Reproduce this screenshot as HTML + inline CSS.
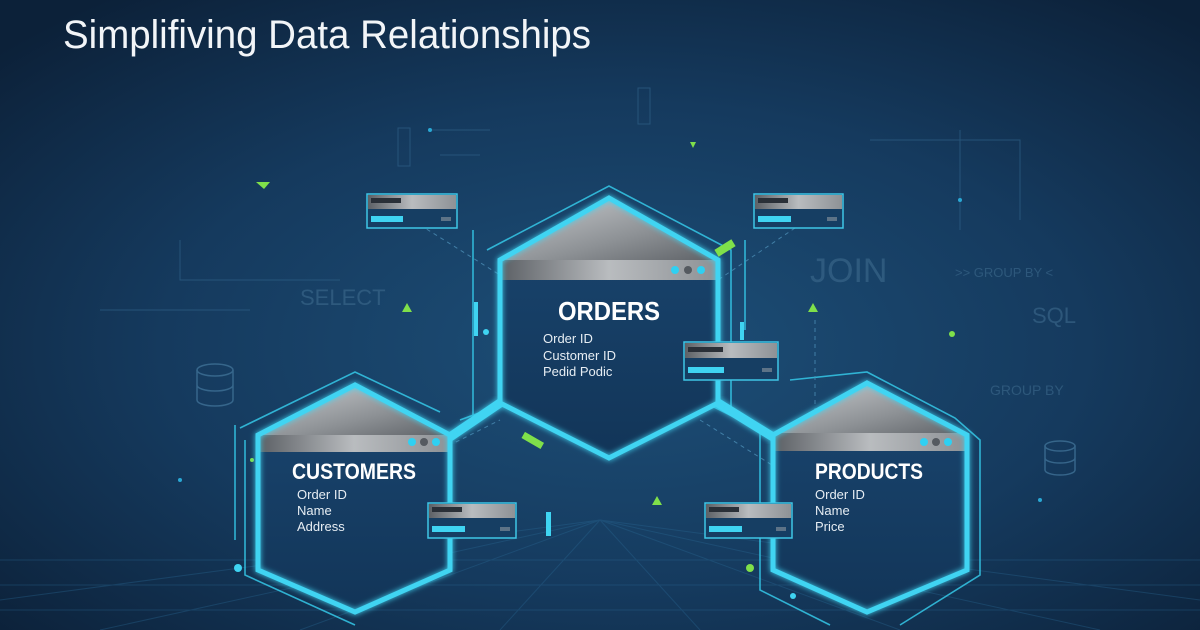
<!DOCTYPE html>
<html><head><meta charset="utf-8"><style>
html,body{margin:0;padding:0;background:#0e2540;}
svg{display:block}
text{font-family:"Liberation Sans",sans-serif}
</style></head><body>
<svg width="1200" height="630" viewBox="0 0 1200 630" xmlns="http://www.w3.org/2000/svg">
<defs>
<radialGradient id="bg" cx="0.52" cy="0.55" r="0.7">
<stop offset="0" stop-color="#1d4f78"/><stop offset="0.55" stop-color="#153a5e"/><stop offset="1" stop-color="#0c2139"/>
</radialGradient>
<linearGradient id="gray" x1="0" y1="0" x2="1" y2="0">
<stop offset="0" stop-color="#5d6166"/><stop offset="0.5" stop-color="#b9bcbf"/><stop offset="1" stop-color="#8e9296"/>
</linearGradient>
<linearGradient id="roof" x1="0" y1="0" x2="1" y2="1">
<stop offset="0" stop-color="#c9cccf"/><stop offset="0.6" stop-color="#8d9195"/><stop offset="1" stop-color="#5f6368"/>
</linearGradient>
<linearGradient id="inner" x1="0" y1="0" x2="0" y2="1">
<stop offset="0" stop-color="#1a4670"/><stop offset="1" stop-color="#123558"/>
</linearGradient>
<filter id="glow" x="-20%" y="-20%" width="140%" height="140%"><feGaussianBlur stdDeviation="3" result="b"/><feMerge><feMergeNode in="b"/><feMergeNode in="SourceGraphic"/></feMerge></filter>
</defs>
<rect width="1200" height="630" fill="url(#bg)"/>

<!-- floor grid -->
<g stroke="#2a6a96" stroke-width="1" opacity="0.35">
<line x1="0" y1="560" x2="1200" y2="560"/><line x1="0" y1="585" x2="1200" y2="585"/><line x1="0" y1="610" x2="1200" y2="610"/>
<line x1="600" y1="520" x2="100" y2="630"/><line x1="600" y1="520" x2="300" y2="630"/><line x1="600" y1="520" x2="500" y2="630"/>
<line x1="600" y1="520" x2="700" y2="630"/><line x1="600" y1="520" x2="900" y2="630"/><line x1="600" y1="520" x2="1100" y2="630"/>
<line x1="600" y1="520" x2="0" y2="600"/><line x1="600" y1="520" x2="1200" y2="600"/>
</g>

<!-- faint background text -->
<g fill="#3d6a8d" opacity="0.6">
<text x="300" y="305" font-size="22">SELECT</text>
<text x="810" y="282" font-size="34">JOIN</text>
<text x="955" y="277" font-size="13">&gt;&gt; GROUP BY &lt;</text>
<text x="1032" y="323" font-size="22">SQL</text>
<text x="990" y="395" font-size="14">GROUP BY</text>
</g>
<g fill="none" stroke="#3f7196" stroke-width="1.5" opacity="0.8">
<ellipse cx="215" cy="370" rx="18" ry="6"/><path d="M197 370v30a18 6 0 0 0 36 0v-30M197 385a18 6 0 0 0 36 0"/>
<ellipse cx="1060" cy="446" rx="15" ry="5"/><path d="M1045 446v24a15 5 0 0 0 30 0v-24M1045 458a15 5 0 0 0 30 0"/>
</g>
<g stroke="#2e5f86" stroke-width="1" fill="none" opacity="0.7">
<path d="M180 240v40h160"/><path d="M870 140h150v80"/><path d="M430 130h60M440 155h40"/><rect x="398" y="128" width="12" height="38"/><rect x="638" y="88" width="12" height="36"/>
<line x1="960" y1="130" x2="960" y2="230"/><line x1="100" y1="310" x2="250" y2="310"/>
</g>
<g fill="#7fe04a">
<path d="M256 182l14 0-6 7z"/><path d="M402 312l10 0-5-9z"/><path d="M808 312l10 0-5-9z"/><path d="M652 505l10 0-5-9z"/><path d="M690 142l6 0-3 6z"/>
<circle cx="252" cy="460" r="2"/><circle cx="952" cy="334" r="3"/>
</g>
<g fill="#2aa8d4"><circle cx="180" cy="480" r="2"/><circle cx="430" cy="130" r="2"/><circle cx="1040" cy="500" r="2"/><circle cx="960" cy="200" r="2"/></g>

<!-- outer offset outlines -->
<g fill="none" stroke="#35c8e8" stroke-width="1.6" opacity="0.85">
<path d="M487 250 L609 186 L731 250 L731 410"/>
<path d="M473 230 L473 420"/><path d="M745 240 L745 330"/>
<path d="M240 428 L355 372 L440 412"/><path d="M245 440 L245 575 L355 625"/><path d="M235 425 L235 540"/>
<path d="M790 380 L867 372 L955 418 L980 440 L980 575 L900 625"/><path d="M760 430 L760 590 L830 625"/>
<path d="M460 420 L520 398"/><path d="M700 400 L780 440"/>
</g>
<g stroke="#4b8db5" stroke-width="1" stroke-dasharray="4 4" fill="none" opacity="0.8">
<line x1="420" y1="225" x2="500" y2="275"/><line x1="795" y1="228" x2="718" y2="280"/>
<line x1="420" y1="460" x2="500" y2="420"/><line x1="700" y1="420" x2="780" y2="470"/>
<line x1="815" y1="320" x2="815" y2="430"/><line x1="432" y1="475" x2="432" y2="500"/>
</g>

<!-- thick connectors -->
<g stroke="#3fd4f2" stroke-width="9" fill="none" filter="url(#glow)">
<line x1="500" y1="403" x2="450" y2="437"/>
<line x1="718" y1="403" x2="773" y2="437"/>
</g>

<!-- hexagon builder: center -->
<g>
<polygon points="609,198 718,260 718,403 609,458 500,403 500,260" fill="url(#inner)"/>
<polygon points="609,200 716,260 502,260" fill="url(#roof)"/>
<rect x="502" y="260" width="214" height="20" fill="url(#gray)"/>
<circle cx="675" cy="270" r="4" fill="#2fd0f2"/><circle cx="688" cy="270" r="4" fill="#555a60"/><circle cx="701" cy="270" r="4" fill="#2fd0f2"/>
<polygon points="609,198 718,260 718,403 609,458 500,403 500,260" fill="none" stroke="#3fd4f2" stroke-width="5" filter="url(#glow)"/>
<text x="558" y="320" font-size="26" font-weight="bold" fill="#fff" textLength="102" lengthAdjust="spacingAndGlyphs">ORDERS</text>
<g fill="#e6edf3" font-size="13"><text x="543" y="343">Order ID</text><text x="543" y="360">Customer ID</text><text x="543" y="376">Pedid Podic</text></g>
</g>
<!-- left -->
<g>
<polygon points="355,385 450,435 450,570 355,612 258,570 258,435" fill="url(#inner)"/>
<polygon points="355,387 448,435 260,435" fill="url(#roof)"/>
<rect x="260" y="435" width="188" height="17" fill="url(#gray)"/>
<circle cx="412" cy="442" r="4" fill="#2fd0f2"/><circle cx="424" cy="442" r="4" fill="#555a60"/><circle cx="436" cy="442" r="4" fill="#2fd0f2"/>
<polygon points="355,385 450,435 450,570 355,612 258,570 258,435" fill="none" stroke="#3fd4f2" stroke-width="5" filter="url(#glow)"/>
<text x="292" y="479" font-size="22" font-weight="bold" fill="#fff" textLength="124" lengthAdjust="spacingAndGlyphs">CUSTOMERS</text>
<g fill="#e6edf3" font-size="13"><text x="297" y="499">Order ID</text><text x="297" y="515">Name</text><text x="297" y="531">Address</text></g>
</g>
<!-- right -->
<g>
<polygon points="867,383 967,435 967,570 867,612 773,570 773,435" fill="url(#inner)"/>
<polygon points="867,385 965,435 775,435" fill="url(#roof)"/>
<rect x="775" y="433" width="190" height="18" fill="url(#gray)"/>
<circle cx="924" cy="442" r="4" fill="#2fd0f2"/><circle cx="936" cy="442" r="4" fill="#555a60"/><circle cx="948" cy="442" r="4" fill="#2fd0f2"/>
<polygon points="867,383 967,435 967,570 867,612 773,570 773,435" fill="none" stroke="#3fd4f2" stroke-width="5" filter="url(#glow)"/>
<text x="815" y="479" font-size="22" font-weight="bold" fill="#fff" textLength="108" lengthAdjust="spacingAndGlyphs">PRODUCTS</text>
<g fill="#e6edf3" font-size="13"><text x="815" y="499">Order ID</text><text x="815" y="515">Name</text><text x="815" y="531">Price</text></g>
</g>

<!-- small panels -->
<g id="panels">
<g transform="translate(367,194)"><rect width="90" height="34" fill="#163e63" stroke="#3fc6e6" stroke-width="1.5"/><rect x="1" y="1" width="88" height="14" fill="url(#gray)"/><rect x="4" y="4" width="30" height="5" fill="#2a3038"/><rect x="4" y="22" width="32" height="6" fill="#3fd4f2"/><rect x="74" y="23" width="10" height="4" fill="#5d7387"/></g>
<g transform="translate(754,194)"><rect width="89" height="34" fill="#163e63" stroke="#3fc6e6" stroke-width="1.5"/><rect x="1" y="1" width="87" height="14" fill="url(#gray)"/><rect x="4" y="4" width="30" height="5" fill="#2a3038"/><rect x="4" y="22" width="33" height="6" fill="#3fd4f2"/><rect x="73" y="23" width="10" height="4" fill="#5d7387"/></g>
<g transform="translate(684,342)"><rect width="94" height="38" fill="#163e63" stroke="#3fc6e6" stroke-width="1.5"/><rect x="1" y="1" width="92" height="15" fill="url(#gray)"/><rect x="4" y="5" width="35" height="5" fill="#2a3038"/><rect x="4" y="25" width="36" height="6" fill="#3fd4f2"/><rect x="78" y="26" width="10" height="4" fill="#5d7387"/></g>
<g transform="translate(428,503)"><rect width="88" height="35" fill="#163e63" stroke="#3fc6e6" stroke-width="1.5"/><rect x="1" y="1" width="86" height="14" fill="url(#gray)"/><rect x="4" y="4" width="30" height="5" fill="#2a3038"/><rect x="4" y="23" width="33" height="6" fill="#3fd4f2"/><rect x="72" y="24" width="10" height="4" fill="#5d7387"/></g>
<g transform="translate(705,503)"><rect width="87" height="35" fill="#163e63" stroke="#3fc6e6" stroke-width="1.5"/><rect x="1" y="1" width="85" height="14" fill="url(#gray)"/><rect x="4" y="4" width="30" height="5" fill="#2a3038"/><rect x="4" y="23" width="33" height="6" fill="#3fd4f2"/><rect x="71" y="24" width="10" height="4" fill="#5d7387"/></g>
</g>

<!-- accents -->
<g fill="#7fe04a"><rect x="715" y="244" width="20" height="8" transform="rotate(-32 725 248)"/><rect x="522" y="437" width="22" height="7" transform="rotate(30 533 440)"/></g>
<g fill="#3fd4f2"><rect x="474" y="302" width="4" height="34"/><circle cx="486" cy="332" r="3"/><rect x="546" y="512" width="5" height="24"/><rect x="740" y="322" width="4" height="18"/><circle cx="238" cy="568" r="4"/><circle cx="793" cy="596" r="3"/></g>
<circle cx="750" cy="568" r="4" fill="#7fe04a"/>

<text x="63" y="48" font-size="40" fill="#f2f5f8" textLength="528" lengthAdjust="spacingAndGlyphs">Simplifiving Data Relationships</text>
</svg>
</body></html>
